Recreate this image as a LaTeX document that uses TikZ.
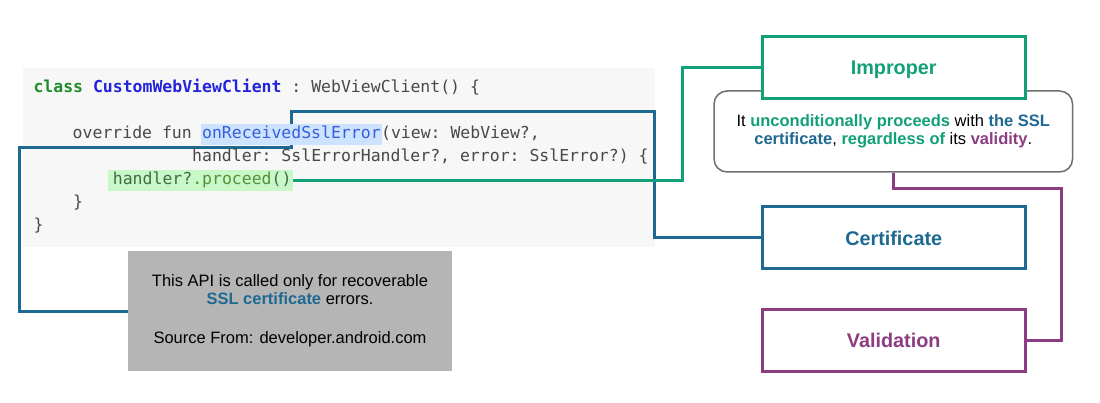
\documentclass[tikz,border=0pt]{standalone}
\usepackage{xcolor}
\usepackage{fontspec}
\setmainfont{Liberation Sans}
\newfontfamily\codefont{DejaVu Sans Mono}
\usepackage{tikz}
\usetikzlibrary{positioning, backgrounds}
\definecolor{impgreen}{RGB}{18, 160, 120}
\definecolor{certblue}{RGB}{30, 105, 145}
\definecolor{validpurple}{RGB}{140, 60, 130}
\definecolor{kwgreen}{RGB}{30, 140, 40}
\definecolor{clsblue}{RGB}{35, 35, 220}
\definecolor{codegray}{RGB}{72, 72, 72}
\definecolor{fnblue}{RGB}{55, 95, 215}
\definecolor{fnmark}{RGB}{204, 226, 255}
\definecolor{prmark}{RGB}{200, 247, 200}
\definecolor{prdark}{RGB}{70, 105, 70}
\definecolor{prgreen}{RGB}{85, 145, 55}
\definecolor{notegray}{RGB}{181, 181, 181}
\definecolor{codebgcol}{RGB}{247, 247, 247}
\definecolor{descgray}{RGB}{110, 110, 110}

\begin{document}
\begin{tikzpicture}[
    x=1pt, y=-1pt,
    node distance=37pt,
    codeline/.style={anchor=west, inner sep=0pt, text height=12pt, text depth=4pt, text=codegray, font=\codefont\fontsize{16.48}{20}\selectfont\frenchspacing},
    codemark/.style={codeline, minimum height=21pt, inner xsep=1.5pt},
    basebox/.style={rectangle, fill=white, line width=3pt, minimum width=263pt, minimum height=62pt, text height=14.2pt, text depth=0pt, font=\fontsize{19.8}{23}\selectfont\bfseries},
    notebox/.style={rectangle, align=center, font=\fontsize{16.5}{17.7}\selectfont},
    conn/.style={line width=3pt}
  ]
  \useasboundingbox (0,0) rectangle (1100,403);

  % code snippet
  \node[codeline] (line1) at (33.3,89) {{\color{kwgreen}\bfseries class} {\color{clsblue}\bfseries CustomWebViewClient} : WebViewClient() \{};
  \node[codemark, fill=fnmark, text=fnblue] (sslerr) at (200.4,135) {onReceivedSslError};
  \node[codeline, left=8.4pt of sslerr] (ovr) {override fun};
  \node[codeline, right=-1.5pt of sslerr] (viewarg) {(view: WebView?,};
  \node[codeline] (line4) at (192,158) {handler: SslErrorHandler?, error: SslError?) \{};
  \node[codemark, fill=prmark, text=prdark] (proceed) at (108,181) {\hspace{3.2pt}handler?{\color{prgreen}.proceed}()};
  \node[codeline] (close1) at (73,204) {\}};
  \node[codeline] (close2) at (33.3,227) {\}};

  \node[notebox, fill=notegray, minimum width=324pt, minimum height=120pt] (note) at (290,311) {This API is called only for recoverable\\ {\color{certblue}\bfseries SSL certificate} errors.\\[21.3pt] Source From: developer.android.com};

  % right column
  \node[notebox, draw=descgray, fill=white, line width=1.5pt, rounded corners=13pt, minimum width=358.5pt, minimum height=81pt, font=\fontsize{16.5}{18.3}\selectfont] (desc) at (893.3,131.5) {It {\color{impgreen}\bfseries unconditionally proceeds} with {\color{certblue}\bfseries the SSL}\\ {\color{certblue}\bfseries certificate}, {\color{impgreen}\bfseries regardless of} its {\color{validpurple}\bfseries validity}.};
  \node[basebox, draw=impgreen, text=impgreen] (improper) at (893.7,67.5) {Improper};
  \node[basebox, draw=certblue, text=certblue] (certif) at (893.7,238) {Certificate};
  \node[basebox, draw=validpurple, text=validpurple, below=of certif] (valid) {Validation};

  \coordinate (bluetop) at (654,112);
  \coordinate (greenbend) at (682,0);
  \coordinate (purplebend) at (1061,189);

  \begin{scope}[on background layer]
    \node[fill=codebgcol, minimum width=632pt, minimum height=179pt, inner sep=0pt] (codebg) at (339,157.5) {};
    \draw[conn, certblue] (note.west) -| (19,148) -| (sslerr.center |- bluetop) -- (bluetop) |- (certif.west);
    \draw[conn, impgreen] (proceed.east) -| (greenbend |- improper.west) -- (improper.west);
    \draw[conn, validpurple] (desc.south) |- (purplebend) |- (valid.east);
  \end{scope}
\end{tikzpicture}
\end{document}
